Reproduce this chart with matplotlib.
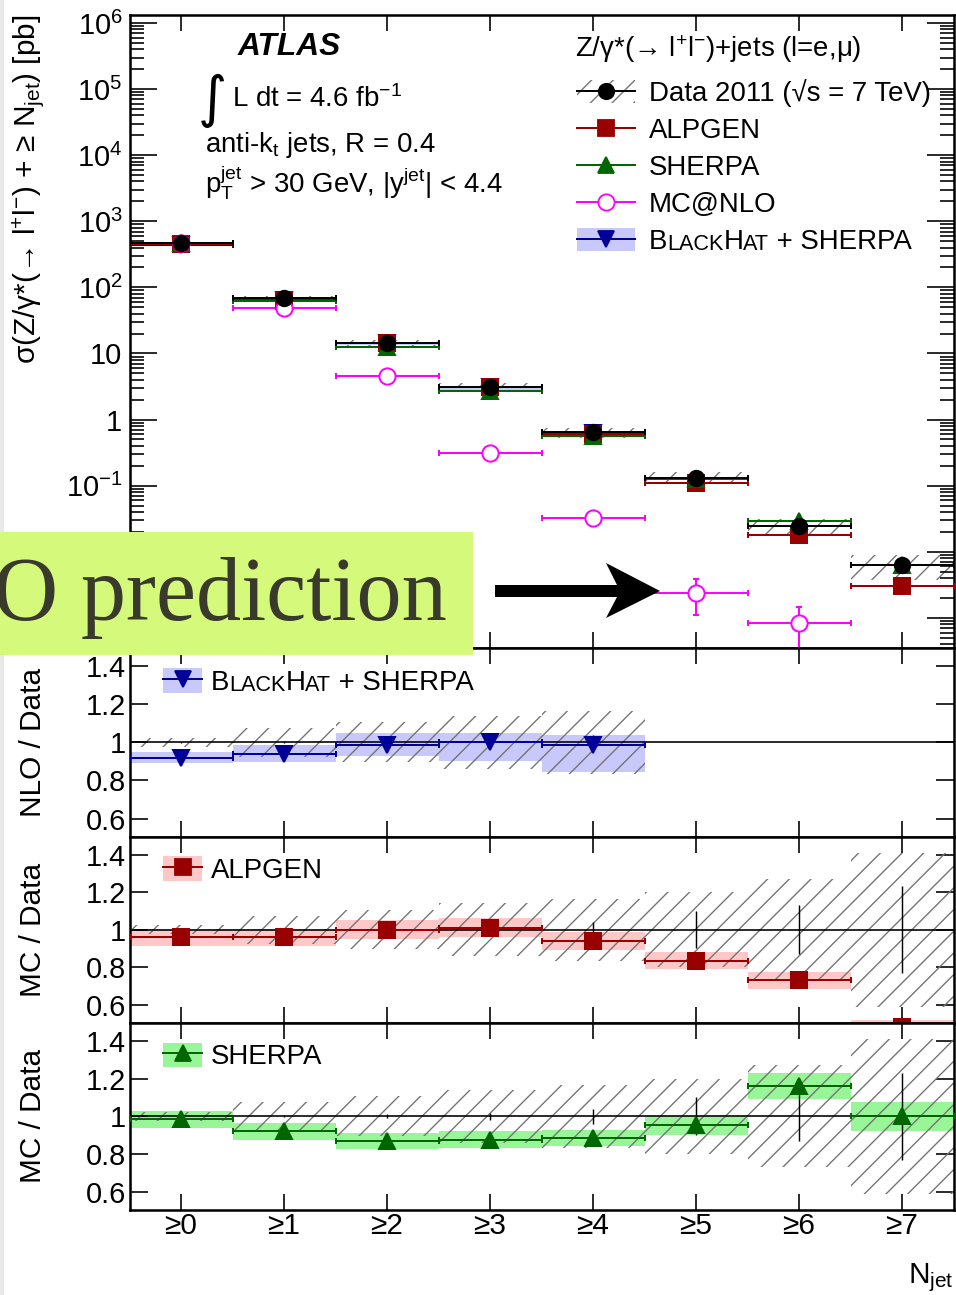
import numpy as np
import matplotlib
matplotlib.use("Agg")
import matplotlib.pyplot as plt
from matplotlib.patches import Patch, Rectangle, Polygon
from matplotlib.lines import Line2D
from matplotlib.ticker import FixedLocator, FuncFormatter, LogLocator, NullFormatter

plt.rcParams['font.family'] = ['Liberation Sans', 'DejaVu Sans']
plt.rcParams['mathtext.fontset'] = 'custom'
plt.rcParams['mathtext.rm'] = 'Liberation Sans'
plt.rcParams['mathtext.it'] = 'Liberation Sans:italic'
plt.rcParams['mathtext.bf'] = 'Liberation Sans:bold'
plt.rcParams['hatch.linewidth'] = 0.75

# --- data ---
njet = np.arange(8)
njet_labels = ['≥0', '≥1', '≥2', '≥3', '≥4', '≥5', '≥6', '≥7']

data_xs = np.array([475, 68, 14.5, 3.1, 0.64, 0.132, 0.025, 0.0063])
data_stat = np.array([0.003, 0.005, 0.01, 0.02, 0.04, 0.10, 0.13, 0.23])   # relative
data_sys = np.array([0.025, 0.075, 0.105, 0.14, 0.165, 0.20, 0.27, 0.41])   # relative

alpgen_xs = np.array([456, 65, 14.5, 3.13, 0.60, 0.110, 0.018, 0.0030])
sherpa_xs = np.array([468, 62.5, 12.6, 2.72, 0.567, 0.126, 0.029, 0.0063])
mcnlo_xs = np.array([470, 49, 4.6, 0.316, 0.032, 0.0024, 0.00085])
mcnlo_up = np.array([0, 0, 0, 0, 0, 0.0015, 0.0006])
mcnlo_dn = np.array([0, 0, 0, 0, 0, 0.0013, 0.0005])
blackhat_xs = np.array([437, 64, 14.3, 3.1, 0.63])

blackhat_ratio = np.array([0.92, 0.94, 0.988, 1.0, 0.986])
blackhat_up = np.array([0.03, 0.045, 0.06, 0.05, 0.05])
blackhat_dn = np.array([0.03, 0.045, 0.06, 0.10, 0.14])
alpgen_ratio = np.array([0.96, 0.96, 1.00, 1.01, 0.94, 0.835, 0.73, 0.48])
alpgen_err = np.array([0.045, 0.045, 0.05, 0.05, 0.05, 0.045, 0.043, 0.04])
sherpa_ratio = np.array([0.985, 0.92, 0.87, 0.877, 0.886, 0.953, 1.16, 1.0])
sherpa_err = np.array([0.045, 0.046, 0.044, 0.044, 0.044, 0.05, 0.07, 0.078])

c_alp, c_alp_band = '#990000', '#ffc8c8'
c_she, c_she_band = '#006600', '#98f598'
c_bh, c_bh_band = '#000099', '#c8c8fa'
c_mc = '#ff00ff'
c_hatch = '0.45'
hatch = '//'
fs = 15.3

W, H, DPI = 956, 1295, 130
fig = plt.figure(figsize=(W / DPI, H / DPI), dpi=DPI)


def box(x0, y0, x1, y1):
    # pixel box (top-left origin) -> figure fraction rect
    return [x0 / W, 1 - y1 / H, (x1 - x0) / W, (y1 - y0) / H]


ax = fig.add_axes(box(129.5, 15, 953.5, 648))
ax1 = fig.add_axes(box(129.5, 648, 953.5, 836.7))
ax2 = fig.add_axes(box(129.5, 836.7, 953.5, 1022.7))
ax3 = fig.add_axes(box(129.5, 1022.7, 953.5, 1210))

for a in (ax, ax1, ax2, ax3):
    a.set_xlim(-0.5, 7.5)
    a.set_xticks(njet)
    a.tick_params(axis='x', which='major', direction='in', top=True, bottom=True,
                  length=9, width=0.9, labelbottom=False)
    a.tick_params(axis='y', which='both', direction='in', left=True, right=True,
                  width=0.9, labelsize=16)
    for s in a.spines.values():
        s.set_linewidth(1.4)


def bin_points(a, x, y, color, marker, mfc=None, yerr=None, ms=8.5, z=4):
    a.errorbar(x, y, xerr=0.5, yerr=yerr, fmt=marker, color=color,
               mfc=mfc or color, mec=color, ms=ms, lw=1.1, capsize=1.7,
               capthick=1.1, mew=1.1, zorder=z)


# --- main panel ---
ax.set_yscale('log')
ax.set_ylim(10 ** -3.455, 10 ** 6.12)
ax.yaxis.set_major_locator(FixedLocator(10.0 ** np.arange(-3, 7)))
ax.yaxis.set_minor_locator(LogLocator(base=10, subs=np.arange(2, 10), numticks=30))
ax.yaxis.set_minor_formatter(NullFormatter())
# 10^-2 and 10^-3 sit under the slide's caption box, so they stay blank
exp_lab = {0: '1', 1: '10', -2: '', -3: ''}
ax.yaxis.set_major_formatter(FuncFormatter(
    lambda v, p: exp_lab.get(int(round(np.log10(v))), '$10^{%d}$' % int(round(np.log10(v))))))
ax.tick_params(axis='y', which='major', length=15, pad=4)
ax.tick_params(axis='y', which='minor', length=7.5)

ax.bar(njet, data_xs * 2 * data_sys, bottom=data_xs * (1 - data_sys), width=1,
       facecolor='none', edgecolor=c_hatch, hatch=hatch, linewidth=0, zorder=1)
ax.bar(njet[:5], blackhat_xs * (blackhat_up + blackhat_dn),
       bottom=blackhat_xs * (1 - blackhat_dn), width=1, color=c_bh_band, lw=0, zorder=1)
bin_points(ax, njet[:5], blackhat_xs, c_bh, 'v', z=3)
bin_points(ax, njet, alpgen_xs, c_alp, 's', z=3)
bin_points(ax, njet, sherpa_xs, c_she, '^', z=3)
bin_points(ax, njet[:7], mcnlo_xs, c_mc, 'o', mfc='white', yerr=[mcnlo_dn, mcnlo_up], ms=9, z=3)
bin_points(ax, njet, data_xs, 'k', 'o', yerr=data_xs * data_stat, z=5)

ax.set_ylabel(r'σ(Z/γ*(→ l$^{+}$l$^{-}$) + ≥ N$_{\mathrm{jet}}$) [pb]', loc='top', fontsize=16.5)
ax.yaxis.set_label_coords(-0.1, 1.0)

ax.text(0.1317, 0.949, 'ATLAS', transform=ax.transAxes, fontsize=17.5,
        fontweight='bold', fontstyle='italic', va='center')
ax.text(0.1010, 0.864, '∫', transform=ax.transAxes, fontsize=31,
        family='DejaVu Sans', va='center', ha='center')
ax.text(0.1244, 0.8547, 'L dt = 4.6 fb$^{-1}$', transform=ax.transAxes,
        fontsize=fs, va='baseline')
ax.text(0.0916, 0.784, 'anti-k$_{\\mathrm{t}}$ jets, R = 0.4', transform=ax.transAxes,
        fontsize=fs, va='baseline')
ax.text(0.0916, 0.7193, 'p$_{\\mathrm{T}}^{\\mathrm{jet}}$ > 30 GeV, |y$^{\\mathrm{jet}}$| < 4.4',
        transform=ax.transAxes, fontsize=fs, va='baseline')
ax.text(0.5407, 0.934, 'Z/γ*(→ l$^{+}$l$^{-}$)+jets (l=e,μ)', transform=ax.transAxes,
        fontsize=fs, va='baseline')


def small_caps(a, first, pieces, big=fs, small=12):
    prev = first
    for txt, is_small in pieces:
        prev = a.annotate(txt, xy=(1, 0), xycoords=prev, va='bottom', ha='left',
                          fontsize=small if is_small else big, zorder=10,
                          annotation_clip=False)


bh_pieces = [('LACK', True), ('H', False), ('AT', True), (' + SHERPA', False)]

h_data = (Patch(facecolor='none', edgecolor=c_hatch, hatch=hatch, lw=0),
          Line2D([], [], color='k', marker='o', ms=8.5, lw=1.1))
h_alp = Line2D([], [], color=c_alp, marker='s', ms=8.5, lw=1.1)
h_she = Line2D([], [], color=c_she, marker='^', ms=8.5, lw=1.1)
h_mc = Line2D([], [], color=c_mc, marker='o', mfc='white', ms=9, lw=1.1)
h_bh = (Patch(facecolor=c_bh_band, lw=0),
        Line2D([], [], color=c_bh, marker='v', ms=8.5, lw=1.1))
leg = ax.legend([h_data, h_alp, h_she, h_mc, h_bh],
                ['Data 2011 (√s = 7 TeV)', 'ALPGEN', 'SHERPA', 'MC@NLO', 'B'],
                loc='upper left', bbox_to_anchor=(0.543, 0.898), frameon=False,
                fontsize=fs, handlelength=2.1, handleheight=0.9, handletextpad=0.5,
                labelspacing=0.36, borderpad=0, borderaxespad=0)
small_caps(ax, leg.get_texts()[4], bh_pieces)

# --- ratio panels ---
ratio_ticks = [0.6, 0.8, 1.0, 1.2, 1.4]
for a, lab in ((ax1, 'NLO / Data'), (ax2, 'MC / Data'), (ax3, 'MC / Data')):
    a.set_ylim(0.505, 1.495)
    a.set_yticks(ratio_ticks)
    a.set_yticklabels(['0.6', '0.8', '1', '1.2', '1.4'])
    a.tick_params(axis='y', which='major', length=10, pad=2)
    a.axhline(1, color='k', lw=0.9, zorder=3)
    a.set_ylabel(lab, fontsize=16.5)
    a.yaxis.set_label_coords(-0.1, 0.5)

# BlackHat + Sherpa / data
ax1.bar(njet[:5], blackhat_up + blackhat_dn, bottom=blackhat_ratio - blackhat_dn,
        width=1, color=c_bh_band, lw=0, zorder=1)
ax1.bar(njet[:5], 2 * data_sys[:5], bottom=1 - data_sys[:5], width=1,
        facecolor='none', edgecolor=c_hatch, hatch=hatch, linewidth=0, zorder=2)
ax1.errorbar(njet[:5], np.ones(5), yerr=data_stat[:5], fmt='none', ecolor='k', lw=0.8, zorder=3)
bin_points(ax1, njet[:5], blackhat_ratio, c_bh, 'v', ms=9)

# ALPGEN / data
ax2.bar(njet, 2 * alpgen_err, bottom=alpgen_ratio - alpgen_err, width=1,
        color=c_alp_band, lw=0, zorder=1)
ax2.bar(njet, 2 * data_sys, bottom=1 - data_sys, width=1,
        facecolor='none', edgecolor=c_hatch, hatch=hatch, linewidth=0, zorder=2)
ax2.errorbar(njet, np.ones(8), yerr=data_stat, fmt='none', ecolor='k', lw=0.8, zorder=3)
bin_points(ax2, njet, alpgen_ratio, c_alp, 's', ms=9)

# SHERPA / data
ax3.bar(njet, 2 * sherpa_err, bottom=sherpa_ratio - sherpa_err, width=1,
        color=c_she_band, lw=0, zorder=1)
ax3.bar(njet, 2 * data_sys, bottom=1 - data_sys, width=1,
        facecolor='none', edgecolor=c_hatch, hatch=hatch, linewidth=0, zorder=2)
ax3.errorbar(njet, np.ones(8), yerr=data_stat, fmt='none', ecolor='k', lw=0.8, zorder=3)
bin_points(ax3, njet, sherpa_ratio, c_she, '^', ms=9)

rl_kw = dict(loc='upper left', bbox_to_anchor=(0.0407, 0.894), frameon=False,
             fontsize=fs, handlelength=1.42, handleheight=1.0, handletextpad=0.3,
             borderpad=0, borderaxespad=0)
leg1 = ax1.legend([(Patch(facecolor=c_bh_band, lw=0),
                    Line2D([], [], color=c_bh, marker='v', ms=9, lw=1.1))], ['B'], **rl_kw)
small_caps(ax1, leg1.get_texts()[0], bh_pieces)
ax2.legend([(Patch(facecolor=c_alp_band, lw=0),
             Line2D([], [], color=c_alp, marker='s', ms=9, lw=1.1))], ['ALPGEN'], **rl_kw)
ax3.legend([(Patch(facecolor=c_she_band, lw=0),
             Line2D([], [], color=c_she, marker='^', ms=9, lw=1.1))], ['SHERPA'], **rl_kw)

ax3.set_xticklabels(njet_labels)
ax3.tick_params(axis='x', labelbottom=True, labelsize=16.5, pad=1)
ax3.set_xlabel('N$_{\\mathrm{jet}}$', loc='right', fontsize=16.5, labelpad=12)

# --- slide overlay ---
fig.add_artist(Rectangle((0, 0), 4 / W, 1, transform=fig.transFigure,
                         facecolor='#e8e8e8', edgecolor='none', zorder=19))
fig.add_artist(Rectangle((0, 1 - 655 / H), 473 / W, (655 - 532) / H,
                         transform=fig.transFigure, facecolor='#d4f97b',
                         edgecolor='none', zorder=20))
fig.text(447 / W, 1 - 620 / H, 'O prediction', family='Liberation Serif', fontsize=50,
         color='#3a3a2c', ha='right', va='baseline', zorder=21)
arrow_px = [(495, 585), (617, 585), (606, 563), (660, 591), (606, 618), (617, 597), (495, 597)]
fig.add_artist(Polygon([(x / W, 1 - y / H) for x, y in arrow_px], closed=True,
                       transform=fig.transFigure, facecolor='k', edgecolor='none', zorder=21))

fig.savefig('out.png', dpi=DPI)
